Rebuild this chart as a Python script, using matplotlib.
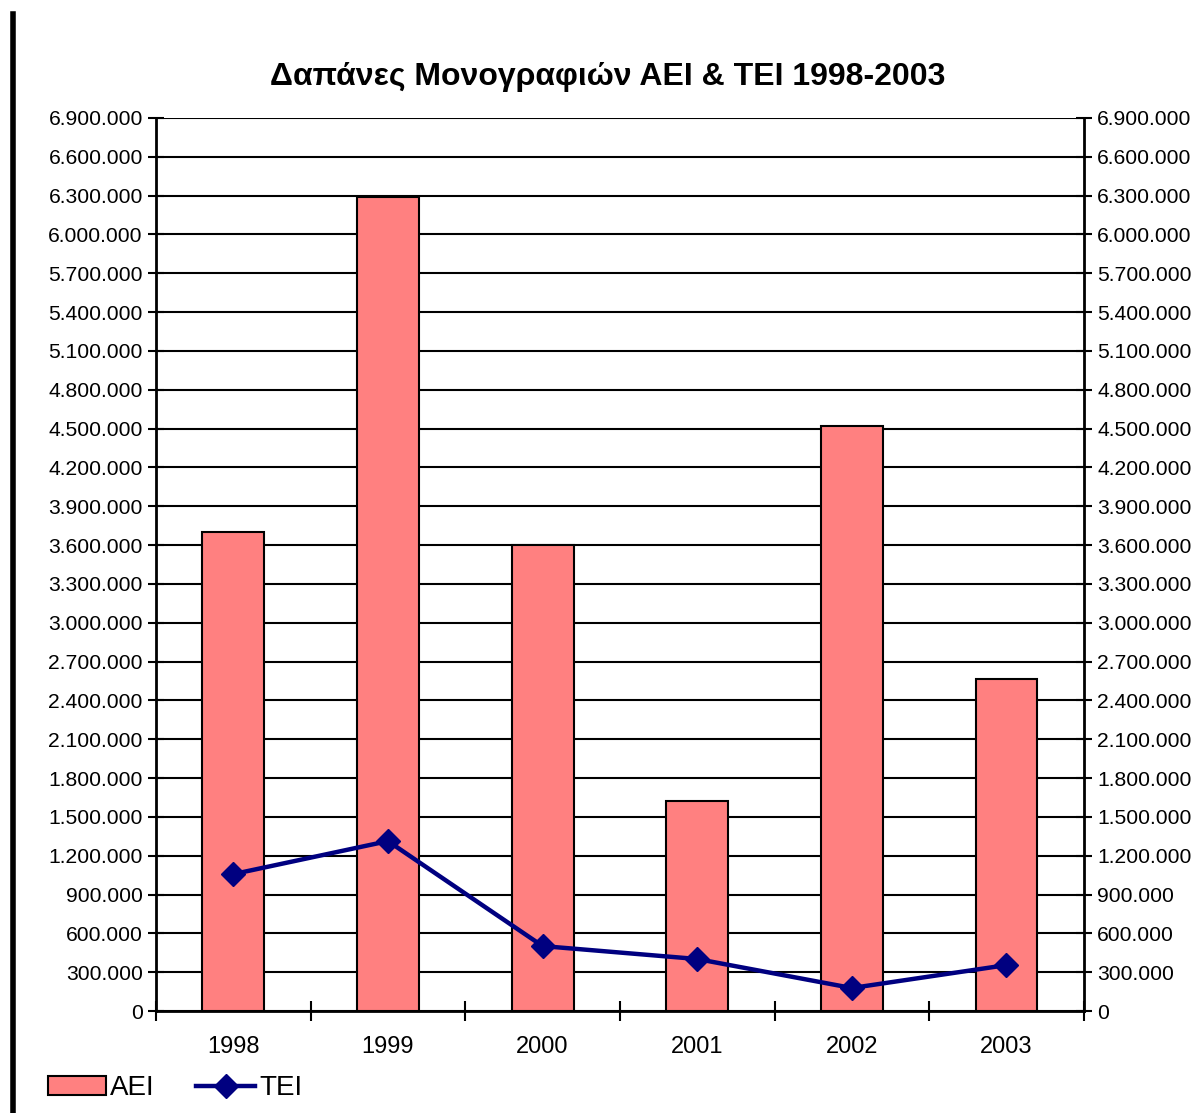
import matplotlib
matplotlib.use("Agg")
import matplotlib.pyplot as plt
from matplotlib.lines import Line2D
from matplotlib.ticker import FuncFormatter, MultipleLocator

plt.rcParams["font.family"] = ["Liberation Sans", "DejaVu Sans"]

years = ["1998", "1999", "2000", "2001", "2002", "2003"]
aei = [3700000, 6290000, 3600000, 1620000, 4520000, 2565000]
tei = [1058000, 1313000, 502000, 402000, 178000, 355000]


def dotted(v, pos):
    return f"{int(round(v)):,}".replace(",", ".")


fig = plt.figure(figsize=(11.91, 11.13), dpi=100)
ax = fig.add_axes([0.131, 0.0916, 0.779, 0.8024])

x = range(len(years))
bars = ax.bar(x, aei, width=0.4, color="#FF8080", edgecolor="black", linewidth=1.5,
              label="AEI", zorder=2)
line, = ax.plot(x, tei, color="#000080", linewidth=3.2, marker="D", markersize=12,
                label="TEI", zorder=3)

ax.set_xlim(-0.5, len(years) - 0.5)
ax.set_ylim(0, 6900000)
ax.yaxis.set_major_locator(MultipleLocator(300000))
ax.yaxis.set_major_formatter(FuncFormatter(dotted))
ax.grid(axis="y", color="black", linewidth=1.5, zorder=0)
ax.set_axisbelow(True)

# category boundaries carry the ticks, year labels sit in between
ax.set_xticks([i - 0.5 for i in range(len(years) + 1)], minor=False)
ax.set_xticklabels([])
ax.set_xticks(list(x), minor=True)
ax.set_xticklabels(years, minor=True, fontsize=17)
ax.tick_params(axis="x", which="minor", length=0, pad=18)
ax.tick_params(axis="x", which="major", direction="inout", length=14, width=1.5)
ax.tick_params(axis="y", direction="inout", length=12, width=1.5, labelsize=15.2)

for side in ["left", "right", "bottom"]:
    ax.spines[side].set_linewidth(2)
ax.spines["top"].set_visible(False)

ax2 = ax.twinx()
ax2.set_ylim(ax.get_ylim())
ax2.yaxis.set_major_locator(MultipleLocator(300000))
ax2.yaxis.set_major_formatter(FuncFormatter(dotted))
ax2.tick_params(axis="y", direction="inout", length=12, width=1.5, labelsize=15.2)
for side in ["left", "right", "bottom", "top"]:
    ax2.spines[side].set_visible(False)

fig.text(0.51, 0.931, "Δαπάνες Μονογραφιών AEI & TEI 1998-2003",
         ha="center", va="center", fontsize=23, fontweight="bold")

fig.legend([bars, line], ["AEI", "TEI"], loc="lower left",
           bbox_to_anchor=(0.019, -0.012), ncol=2, frameon=False,
           fontsize=20, handlelength=2.1, handleheight=0.65,
           handletextpad=0.15, columnspacing=1.5)

fig.add_artist(Line2D([0.0105, 0.0105], [0.0, 0.987], color="black", linewidth=4,
                      transform=fig.transFigure))

fig.savefig("out.png", dpi=100)
